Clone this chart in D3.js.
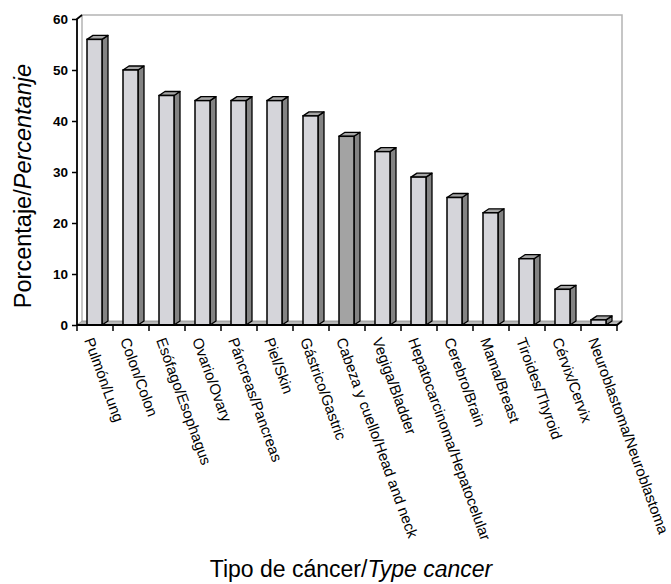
<!DOCTYPE html>
<html>
<head>
<meta charset="utf-8">
<script src="https://cdn.jsdelivr.net/npm/d3@7/dist/d3.min.js"></script>
<style>
  html, body { margin: 0; padding: 0; background: #ffffff; }
  svg { display: block; font-family: "Liberation Sans", Arial, sans-serif; }
</style>
</head>
<body>
<svg id="chart" width="671" height="584"></svg>
<script>
// Cancer types (Spanish/English) and their percentages
const categories = [
  "Pulmón/Lung", "Colon/Colon", "Esófago/Esophagus", "Ovario/Ovary",
  "Páncreas/Pancreas", "Piel/Skin", "Gástrico/Gastric",
  "Cabeza y cuello/Head and neck", "Vegiga/Bladder",
  "Hepatocarcinoma/Hepatocelular", "Cerebro/Brain", "Mama/Breast",
  "Tiroides/Thyroid", "Cérvix/Cervix", "Neuroblastoma/Neuroblastoma"
];
const values = [56, 50, 45, 44, 44, 44, 41, 37, 34, 29, 25, 22, 13, 7, 1];
const highlighted = ["Cabeza y cuello/Head and neck"];
const yTicks = [0, 10, 20, 30, 40, 50, 60];

(function () {
const svg = d3.select("#chart");

// plot frame
const plotLeft = 77, plotRight = 617, plotTop = 19, plotBottom = 325;
const wallDx = 5, wallDy = -4;     // depth of the back wall
const barDx = 6, barDy = -4;       // depth of each bar

const x = d3.scaleBand().domain(categories).range([plotLeft, plotRight]).padding(0);
const y = d3.scaleLinear().domain([0, 60]).range([plotBottom, plotTop]);

const bw = x.bandwidth();
const frontOffset = bw * 10 / 36;
const frontWidth = bw * 15 / 36;

// back wall outline
svg.append("path")
  .attr("d", `M${plotLeft + wallDx},${plotBottom + wallDy} L${plotLeft + wallDx},${plotTop + wallDy} L${plotRight + wallDx},${plotTop + wallDy} L${plotRight + wallDx},${plotBottom + wallDy}`)
  .attr("fill", "none")
  .attr("stroke", "#b4b4b4")
  .attr("stroke-width", 1.5);

// floor
svg.append("path")
  .attr("d", `M${plotLeft},${plotBottom} L${plotLeft + wallDx},${plotBottom + wallDy} L${plotRight + wallDx},${plotBottom + wallDy} L${plotRight},${plotBottom} Z`)
  .attr("fill", "#b8b8b8")
  .attr("stroke", "#8c8c8c")
  .attr("stroke-width", 0.8);

// bars
const bars = svg.append("g").selectAll("g.bar")
  .data(categories.map((c, i) => ({ cat: c, val: values[i] })))
  .join("g").attr("class", "bar");

bars.each(function (d) {
  const g = d3.select(this);
  const x0 = x(d.cat) + frontOffset;
  const x1 = x0 + frontWidth;
  const yt = y(d.val);
  const front = highlighted.includes(d.cat) ? "#a3a3a3" : "#d5d5da";
  // side face
  g.append("path")
    .attr("d", `M${x1},${yt} L${x1 + barDx},${yt + barDy} L${x1 + barDx},${plotBottom + barDy} L${x1},${plotBottom} Z`)
    .attr("fill", "#838383").attr("stroke", "#000").attr("stroke-width", 1.3)
    .attr("stroke-linejoin", "round");
  // top face
  g.append("path")
    .attr("d", `M${x0},${yt} L${x0 + barDx},${yt + barDy} L${x1 + barDx},${yt + barDy} L${x1},${yt} Z`)
    .attr("fill", "#a6a6a6").attr("stroke", "#000").attr("stroke-width", 1.3)
    .attr("stroke-linejoin", "round");
  // front face
  g.append("rect")
    .attr("x", x0).attr("y", yt)
    .attr("width", frontWidth).attr("height", plotBottom - yt)
    .attr("fill", front).attr("stroke", "#000").attr("stroke-width", 1.5);
});

// y axis
const yAxis = d3.axisLeft(y).tickValues(yTicks).tickSize(5).tickPadding(4);
const gy = svg.append("g").attr("transform", `translate(${plotLeft},0)`).call(yAxis);
gy.select(".domain").attr("stroke", "#000").attr("stroke-width", 1.8)
  .attr("d", `M0,${plotBottom}V${plotTop}L${wallDx},${plotTop + wallDy}`);
gy.selectAll(".tick line").attr("stroke", "#000").attr("stroke-width", 1.5);
gy.selectAll(".tick text")
  .attr("font-family", "'Liberation Sans', Arial, sans-serif")
  .attr("font-size", 13.5).attr("font-weight", "bold").attr("fill", "#000");

// x axis: ticks at the category boundaries
const boundaries = categories.map(c => x(c)).concat([plotRight]);
const gx = svg.append("g");
gx.append("path")
  .attr("d", `M${plotLeft},${plotBottom}H${plotRight}L${plotRight + wallDx},${plotBottom + wallDy}`)
  .attr("fill", "none").attr("stroke", "#000").attr("stroke-width", 1.8);
gx.selectAll("line.tk").data(boundaries).join("line")
  .attr("class", "tk")
  .attr("x1", d => d).attr("x2", d => d)
  .attr("y1", plotBottom).attr("y2", plotBottom + 6)
  .attr("stroke", "#000").attr("stroke-width", 1.5);

// category labels, slanted
const angle = 70;
gx.selectAll("text.cat").data(categories).join("text")
  .attr("class", "cat")
  .attr("transform", d => `translate(${x(d) + bw / 2 - 11},${plotBottom + 15}) rotate(${angle})`)
  .attr("font-size", 15)
  .attr("fill", "#000")
  .text(d => d);

// axis titles
const yTitle = svg.append("text")
  .attr("transform", `translate(31,186) rotate(-90)`)
  .attr("text-anchor", "middle")
  .attr("font-size", 23.5)
  .attr("fill", "#000");
yTitle.append("tspan").text("Porcentaje/");
yTitle.append("tspan").attr("font-style", "italic").text("Percentanje");

const xTitle = svg.append("text")
  .attr("x", 351).attr("y", 577)
  .attr("text-anchor", "middle")
  .attr("font-size", 23)
  .attr("fill", "#000");
xTitle.append("tspan").text("Tipo de cáncer/");
xTitle.append("tspan").attr("font-style", "italic").text("Type cancer");
})();
</script>
</body>
</html>
